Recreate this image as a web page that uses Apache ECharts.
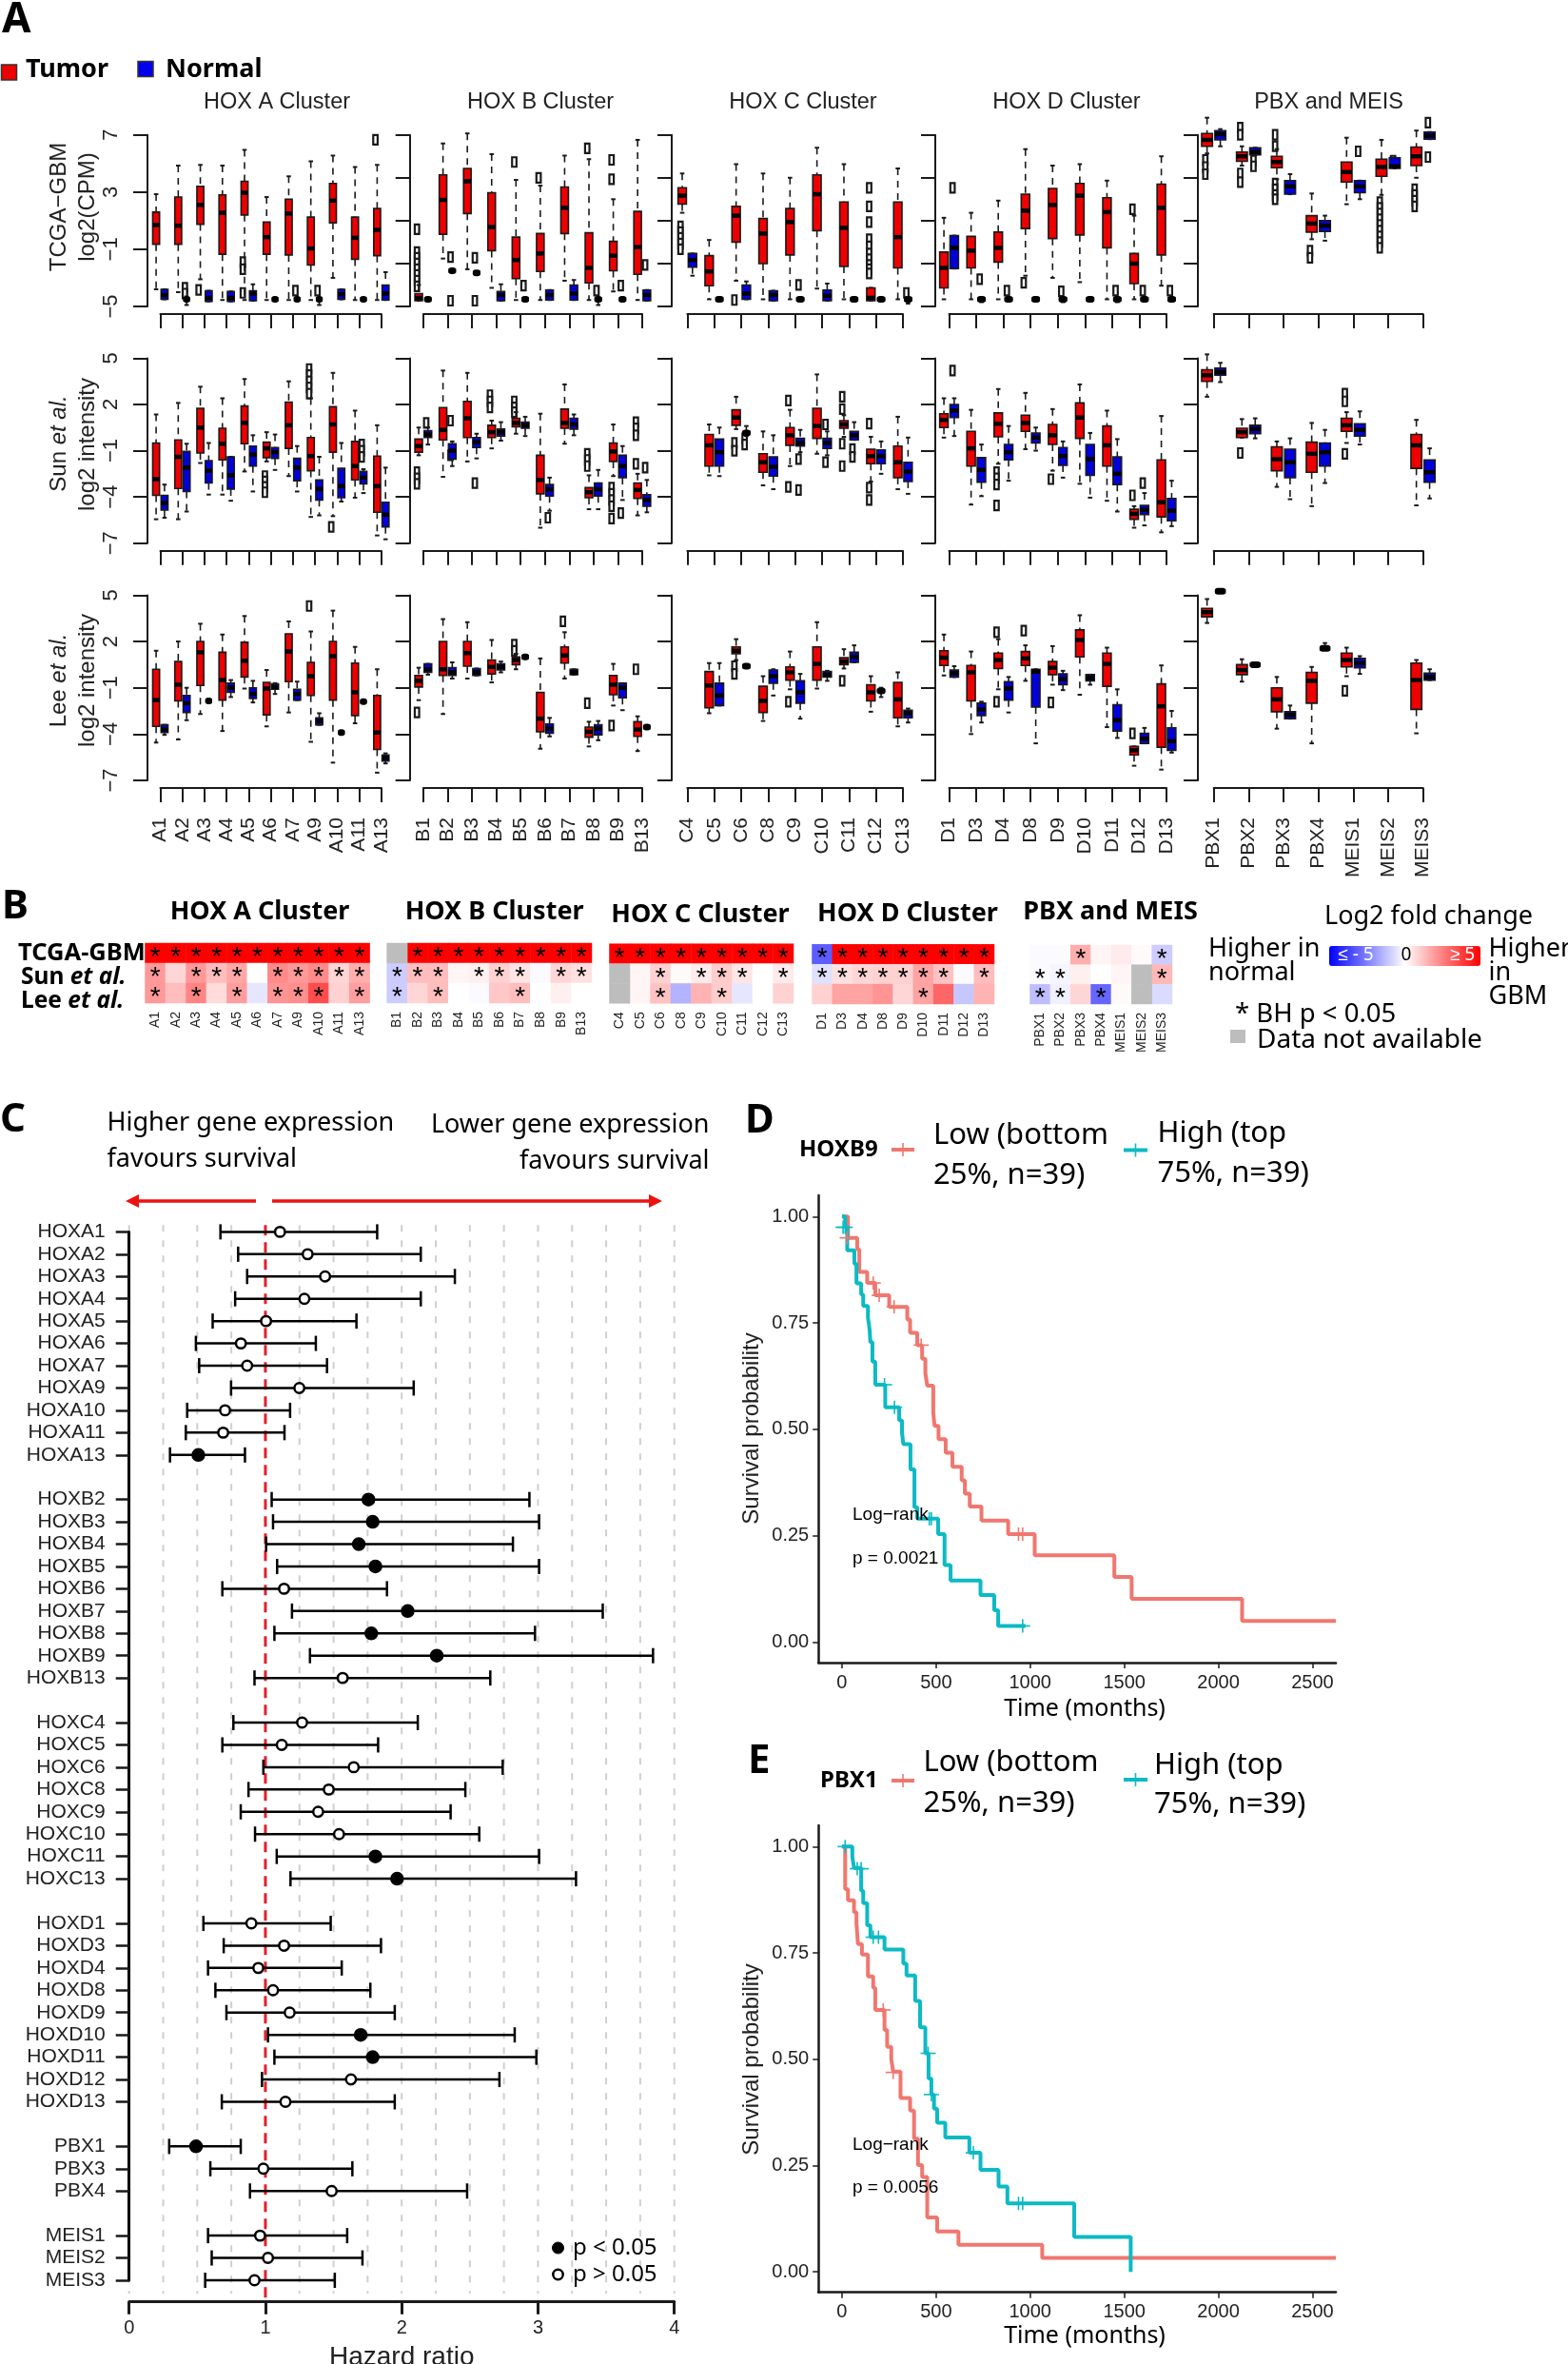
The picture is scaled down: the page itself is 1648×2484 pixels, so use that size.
<!DOCTYPE html>
<html><head><meta charset="utf-8">
<style>html,body{margin:0;padding:0;background:#fff}#c{width:1648px;height:2484px}</style>
<script src="https://cdn.jsdelivr.net/npm/echarts@6/dist/echarts.min.js"></script>
</head><body><div id="c"></div>
<script>
// ---------- Panel A: gene names ----------
const genesA=['A1','A2','A3','A4','A5','A6','A7','A9','A10','A11','A13'];
const genesB=['B1','B2','B3','B4','B5','B6','B7','B8','B9','B13'];
const genesC=['C4','C5','C6','C8','C9','C10','C11','C12','C13'];
const genesD=['D1','D3','D4','D8','D9','D10','D11','D12','D13'];
const genesP=['PBX1','PBX2','PBX3','PBX4','MEIS1','MEIS2','MEIS3'];
// box rows: [low whisker, q1, median, q3, high whisker, ...outliers]
const tcgaA_T=[[-3.8,-0.65,0.7,1.6,2.85],[-4,-0.65,0.65,2.65,4.85],[-3.1,0.75,2.1,3.4,4.9,-3.85],[-4.55,-1.35,1.55,2.8,4.85],[-4.55,1.4,2.95,3.75,5.95,-1.9,-2.4,-4.05],[-4.55,-1.35,-0.15,0.9,2.65],[-4.55,-1.4,1.5,2.5,4.1],[-4.55,-2.1,-0.95,1.25,5.15],[-3,0.85,2.4,3.6,5.55],[-4.55,-1.7,-0.2,1.25,4.75],[-4.55,-1.45,0.35,1.85,4.9,6.65]];
const tcgaA_N=[[-4.5,-4.5,-4.2,-3.8,-3.8],[-4.9,-4.7,-4.5,-4.4,-4.3,-3.7,-4.1],[-4.65,-4.65,-4.4,-3.9,-3.9],[-4.65,-4.65,-4.4,-3.95,-3.95],[-4.6,-4.6,-4.1,-3.9,-3.45],[-4.6,-4.6,-4.5,-4.4,-4.4],[-4.6,-4.6,-4.5,-4.4,-4.4,-3.9],[-4.9,-4.7,-4.5,-4.4,-4.4,-3.9],[-4.5,-4.5,-4.15,-3.8,-3.8],[-4.6,-4.6,-4.5,-4.4,-4.4],[-4.55,-4.55,-4.1,-3.5,-2.6]];
const tcgaB_T=[[-4.6,-4.6,-4.4,-4.1,-3.5,0.4,-1.2,-1.6,-2,-2.4,-2.8,-3.2,-3.6],[-1.65,0.05,2.45,4.2,6.4],[-2.4,1.5,3.75,4.65,7.1],[-3.7,-1.1,0.55,2.95,5.65],[-4.55,-3.05,-1.75,-0.15,3.85,5.1],[-4.55,-2.55,-1.3,0.1,3.45,4],[-3.2,0.1,1.9,3.35,5.55],[-4.55,-3.35,-2.3,0.15,5.3,6.05],[-3.95,-2.5,-1.45,-0.45,2.5,5.25,3.9],[-4.55,-2.75,-0.85,1.65,6.65]];
const tcgaB_N=[[-4.6,-4.6,-4.5,-4.4,-4.4],[-2.6,-2.6,-2.5,-2.4,-2.4,-1.55,-4.6],[-2.75,-2.75,-2.65,-2.55,-2.55,-1.6,-4.6],[-4.6,-4.6,-4.2,-3.95,-3.45],[-4.6,-4.6,-4.5,-4.4,-4.4,-3.55],[-4.55,-4.55,-4.2,-3.85,-3.85],[-4.55,-4.55,-4.1,-3.5,-3.15],[-4.9,-4.7,-4.5,-4.4,-4.4,-3.9],[-4.6,-4.6,-4.5,-4.4,-4.4,-3.55],[-4.6,-4.6,-4.2,-3.85,-3.85,-2.1]];
const tcgaC_T=[[1.55,2.15,2.75,3.3,4.3,0.6,0.2,-0.2,-0.6,-1],[-4.5,-3.55,-2.55,-1.45,-0.35],[-3.2,-0.5,1.35,2,4.95,-4.55],[-4.5,-2,0.1,1.15,4.3],[-4.5,-1.4,0.9,1.85,4],[-3.75,0.3,2.85,4.2,6.1],[-4.5,-2.2,0.5,2.3,4.95],[-4.6,-4.6,-4.4,-3.7,-3.7,3.3,2,0.9,-0.3,-0.8,-1.3,-1.7,-2.1,-2.4,-2.7],[-4.5,-2.3,-0.15,2.3,4.65]];
const tcgaC_N=[[-2.85,-2.25,-1.75,-1.3,-1.3],[-4.6,-4.6,-4.5,-4.4,-4.4],[-4.5,-4.5,-4.1,-3.5,-3.25],[-4.6,-4.6,-4.2,-3.9,-3.9],[-4.6,-4.6,-4.5,-4.4,-4.4,-3.5],[-4.6,-4.6,-4.25,-3.85,-3.4],[-4.6,-4.6,-4.5,-4.4,-4.4],[-4.6,-4.6,-4.5,-4.4,-4.4],[-4.8,-4.65,-4.5,-4.4,-4.4,-4.05]];
const tcgaD_T=[[-4.5,-3.7,-2.3,-1.2,1.2],[-4.5,-2.3,-1.1,-0.1,1.55],[-4.5,-1.9,-0.9,0.2,2.4],[-2.85,0.45,1.7,2.85,6,-3.35],[-3,-0.25,2.1,3.25,4.85],[-3.3,0,2.75,3.6,4.95],[-4.5,-0.9,1.6,2.6,3.8],[-4.5,-3.4,-2,-1.3,1.35,1.8],[-3.55,-1.4,1.9,3.55,5.5]];
const tcgaD_N=[[-2.35,-2.35,-0.9,-0.05,-0.05,3.3],[-4.7,-4.6,-4.5,-4.4,-4.4,-3.1],[-4.6,-4.6,-4.5,-4.4,-4.4,-3.9],[-4.6,-4.6,-4.5,-4.4,-4.4],[-4.7,-4.6,-4.5,-4.4,-4.4,-3.95],[-4.6,-4.6,-4.5,-4.4,-4.4],[-4.7,-4.6,-4.5,-4.4,-4.4,-3.9],[-4.6,-4.6,-4.5,-4.4,-4.4,-3.9],[-4.6,-4.6,-4.5,-4.4,-4.4,-3.9]];
const tcgaP_T=[[5.7,6.2,6.65,7.1,8.2,5.25,4.75,4.25],[4.85,5.15,5.5,5.8,6.2,7.5,7,4.3,3.7],[3.9,4.7,5.1,5.5,6,7,6.2,3.6,3.2,2.8,2.5],[-0.3,0.2,0.8,1.35,2.9,-1.1,-1.6],[2.15,3.7,4.4,5.1,6.8],[2.8,4.1,4.75,5.3,6.65,2.3,1.9,1.5,1.1,0.7,0.3,-0.1,-0.5,-0.9],[4,4.85,5.5,6.15,7.3,3.2,2.8,2.4,2]];
const tcgaP_N=[[6.2,6.65,7.05,7.3,7.4],[5.6,5.6,5.8,6.1,6.1,5.2,4.8],[2.85,2.85,3.4,3.8,4.25],[-0.4,0.25,0.65,1,1.35],[2.5,2.95,3.4,3.8,3.8,5.85],[4.65,4.65,4.8,5.4,5.4,5.2],[6.7,6.7,6.95,7.2,7.2,7.85,5.45]];

const sunA_T=[[-5.45,-3.9,-2.85,-0.5,1.35],[-5.45,-3.45,-1.4,-0.3,2.1],[-1.8,-1.15,0.5,1.75,3.15],[-3.85,-1.6,-0.55,0.45,2.4],[-2.35,-0.55,0.8,1.9,3.65],[-1.7,-1.45,-0.85,-0.45,0.2,-2.65,-3,-3.35,-3.7],[-2.65,-0.85,0.65,2.15,3.5],[-5.3,-2.3,-1.35,-0.15,2.4,4.3,3.9,3.5,3.1,2.7],[-5.25,-1.1,0.7,1.85,4.05,-5.95],[-4.05,-2.9,-2,-0.4,1.6],[-6.5,-5,-3.3,-1.35,0.65]];
const sunA_N=[[-5.35,-4.85,-4.4,-3.9,-3.2],[-4.95,-3.65,-2.1,-1.05,-0.55],[-3.85,-3.1,-2.3,-1.65,-0.5],[-4.25,-3.5,-2.6,-1.4,-1.4],[-3.65,-2,-1.25,-0.7,0],[-2.25,-1.5,-1.1,-0.8,0.05],[-3.65,-2.95,-2.1,-1.5,-0.7],[-5.2,-4.2,-3.5,-2.9,-1.4],[-4.3,-4.05,-3.3,-2.15,-0.5],[-3.75,-3.15,-2.75,-2.35,-2.2,-0.6,-1,-1.4],[-6.75,-5.95,-5.15,-4.35,-2.1]];
const sunB_T=[[-1.3,-1.1,-0.7,-0.25,0.5,-2.4,-2.8,-3.15],[-2.7,-0.3,0.35,1.8,4.2],[-1.7,-0.15,1.1,2.2,4.05],[-0.85,-0.15,0.2,0.65,0.95,2.6,2.2,1.8],[0.1,0.55,0.8,1.1,1.5,2.2,1.8,1.5],[-6,-3.8,-2.9,-1.3,1.4],[-0.55,0.45,0.8,1.7,3.3],[-4.8,-4.05,-3.7,-3.4,-2.6,-1.2,-1.6,-2],[-2.65,-1.7,-1.05,-0.5,0.7,-3.4,-3.8,-4.2,-4.6,-5.4],[-5.2,-4.1,-3.55,-3.1,-2.5,0.85,0.45,0,-1.85]];
const sunB_N=[[-0.6,-0.15,0.05,0.3,0.5,0.8],[-2,-1.55,-1,-0.55,-0.4,0.95,-1.3],[-1.5,-0.8,-0.45,-0.15,0.1,-3.1],[-0.35,-0.05,0.2,0.4,0.85],[-0.05,0.45,0.65,0.85,1.2],[-4.9,-3.95,-3.5,-3.2,-2.75,-5.35],[0,0.4,0.7,1.1,1.35],[-4.8,-3.95,-3.5,-3.1,-2.25],[-4.2,-2.75,-2,-1.3,-0.7,-5.05],[-5,-4.6,-4.2,-3.85,-2.9,-2.1]];
const sunC_T=[null,[-2.6,-2,-0.65,0.05,0.7],[0.4,0.65,1.15,1.65,2.5,-0.5,-1],[-3.25,-2.4,-1.75,-1.2,0.25],[-2,-0.65,0,0.5,1.65,2.25,-3.35],[-1.2,-0.2,0.6,1.75,3.95],[-0.1,0.45,0.7,0.95,1.3,2.5,1.7,-0.55,-2],[-3,-1.85,-1.35,-0.9,-0.1,0.75,-3.4,-4.2],[-3.5,-2.75,-1.75,-0.7,1.2]];
const sunC_N=[null,[-2.65,-2,-1.1,-0.25,0.5],[-0.05,0,0.15,0.3,0.6,-0.2,-0.6],[-3.5,-2.65,-2.05,-1.4,0],[-1.1,-0.7,-0.5,-0.2,0.35,-1.55,-3.55],[-1.3,-0.85,-0.5,-0.2,0.25,0.7,-1.75],[-0.3,-0.3,0,0.25,0.85,-0.9,-1.4],[-2.5,-1.85,-1.35,-0.95,-0.4],[-3.8,-3,-2.35,-1.75,-0.15]];
const sunD_T=[[-0.15,0.5,1,1.4,2.4],[-4.5,-2,-0.85,0.25,1.65],[-1.85,-0.1,0.75,1.45,3,-2.4,-2.8,-3.2,-4.55],[-0.9,0.25,0.8,1.3,2.75],[-2.3,-0.6,0,0.7,1.7,-2.85],[-3.15,-0.2,1.15,2.1,3.3],[-4.25,-2,-0.65,0.6,1.6],[-6,-5.45,-5.1,-4.8,-4.6,-3.9],[-6.3,-5.3,-4.35,-1.6,1.25]];
const sunD_N=[[-0.05,1.15,1.6,2,2.4,4.2],[-3.95,-3.05,-2.25,-1.45,-0.6],[-2.95,-1.6,-1.1,-0.6,0.6],[-1,-0.5,-0.15,0.15,0.5],[-2.75,-1.95,-1.35,-0.8,-0.4],[-4.05,-2.6,-1.55,-0.6,0.15],[-4.95,-3.2,-2.5,-1.4,-0.25],[-5.85,-5.15,-4.85,-4.55,-3.75,-3.1],[-5.9,-5.55,-4.9,-4.1,-2.95]];
const sunP_T=[[2.5,3.5,3.9,4.25,5.25],[-0.15,-0.15,0.2,0.45,1.05,-1.15],[-3.35,-2.3,-1.55,-0.75,-0.4],[-4.6,-2.4,-1.2,-0.45,0.8],[-0.5,0.25,0.65,1.1,1.5,2.7,2.2,-1.2],null,[-4.55,-2.15,-0.65,0.05,1]];
const sunP_N=[[3.45,3.9,4.1,4.35,4.7],[-0.2,0.1,0.4,0.65,1.1],[-4.15,-2.75,-1.75,-0.9,-0.2],[-3.1,-2,-1.1,-0.5,0.35],[-0.6,-0.05,0.35,0.75,1.55],null,[-4.1,-3.05,-2.4,-1.6,-0.85]];

const leeA_T=[[-4.55,-3.5,-1.8,0.2,1.4],[-4.35,-1.85,-0.8,0.7,2],[-2.7,-0.85,1.3,2,3.15],[-3.8,-1.8,-0.5,1.3,2.45],[-1.05,-0.3,0.75,1.95,3.65],[-3.5,-2.75,-1.05,-0.65,0.15],[-2.6,-0.6,1.35,2.5,3.3],[-4.5,-1.5,-0.25,0.65,2.65,4.3],[-5.85,-1.8,1.05,2,4],[-3.3,-2.8,-1.3,0.6,1.65],[-6.5,-5,-3.9,-1.5,0.2]];
const leeA_N=[[-4.05,-3.9,-3.7,-3.4,-3.4],[-3.1,-2.6,-2,-1.5,-1],[-1.95,-1.95,-1.85,-1.75,-1.75],[-1.6,-1.3,-1,-0.7,-0.5],[-1.95,-1.7,-1.4,-1,-0.55],[-1.4,-1.1,-0.95,-0.75,-0.7],[-1.8,-1.8,-1.4,-1.1,-0.6],[-3.4,-3.4,-3.15,-2.95,-2.65],[-4,-4,-3.9,-3.8,-3.8],[-2,-2,-1.9,-1.8,-1.8],[-5.9,-5.75,-5.55,-5.35,-5.25]];
const leeB_T=[[-1.8,-0.95,-0.55,-0.2,0.3,-2.6],[-2.7,-0.2,0.2,2,3.45],[-0.4,0.4,1.25,2,3.25],[-0.65,-0.1,0.35,0.8,2.1],[0.2,0.5,0.8,1,1.2,1.8,1.4],[-4.95,-3.85,-3,-1.3,0.9],[-0.4,0.6,1.1,1.65,2.6,3.3],[-4.8,-4.2,-3.85,-3.55,-3.2,-2],[-2.15,-1.45,-0.8,-0.2,0.55,-3.45],[-5.1,-4.15,-3.7,-3.2,-2.85,0.2]];
const leeB_N=[[-0.15,0,0.2,0.55,0.55],[-0.4,-0.2,0,0.3,0.65],[-0.2,-0.2,0,0.25,0.25],[0,0.15,0.35,0.55,0.7],[0.9,0.9,1,1.1,1.1],[-4.15,-3.95,-3.65,-3.35,-2.95],[-0.15,-0.15,0,0.2,0.2],[-4.4,-4.05,-3.65,-3.4,-3.15],[-2.45,-1.65,-1,-0.7,-0.7],[-3.65,-3.65,-3.55,-3.45,-3.45]];
const leeC_T=[null,[-2.65,-2.3,-0.85,0.05,0.6],[0.8,1.2,1.4,1.65,2.15,0.4,-0.1],[-3.15,-2.6,-1.85,-0.9,-0.25],[-1.1,-0.5,0,0.35,1.35,-1.9],[-1.05,-0.5,0.55,1.65,3.25],[0.25,0.5,0.7,0.95,1.5,-0.55],[-2.55,-1.85,-1.3,-0.8,-0.25],[-3.5,-2.95,-1.75,-0.65,0]];
const leeC_N=[null,[-2.15,-2.15,-1.5,-0.7,0.6],[0.3,0.3,0.4,0.5,0.5],[-1.5,-0.7,-0.25,0.15,0.2],[-3,-2,-1.3,-0.55,-0.1],[-0.55,-0.3,-0.15,0.05,0.1],[0.65,0.65,1,1.3,1.75],[-1.6,-1.3,-1.2,-1.05,-1],[-3.25,-2.95,-2.65,-2.45,-2.35]];
const leeD_T=[[-0.2,0.45,0.95,1.4,2.45],[-4,-1.85,0,0.45,1.35],[-1.1,0.25,0.8,1.25,2.15,2.6,-1.9],[-0.55,0.45,0.9,1.35,1.75,2.7],[-0.8,-0.15,0.3,0.7,1.7,-1.95],[-1.45,1,2.1,2.75,3.7],[-3.55,-0.9,0.55,1.25,1.6],[-6.05,-5.35,-5.05,-4.8,-4.8,-3.95],[-6.3,-4.85,-2.2,-0.75,0.45]];
const leeD_N=[[-0.3,-0.3,-0.05,0.15,0.4],[-3.25,-2.8,-2.4,-2,-1.9],[-2.6,-1.8,-1.05,-0.6,-0.3],[-4.6,-2.25,0.05,0.2,0.2],[-1.15,-0.8,-0.45,-0.1,0.1],[-0.8,-0.55,-0.35,-0.15,-0.15],[-4.25,-3.8,-3.1,-2.1,-1.1],[-4.6,-4.6,-4.3,-3.95,-3.6],[-5.2,-5.05,-4.45,-3.6,-2.5]];
const leeP_T=[[3.2,3.6,3.9,4.15,4.75],[-0.6,-0.15,0.15,0.5,0.85],[-3.65,-2.55,-1.75,-1,-0.3],[-4.6,-2,-0.55,0,0.35],[-0.25,0.35,0.8,1.25,1.6,-1.2],null,[-3.95,-2.4,-0.5,0.6,0.8]];
const leeP_N=[[5.15,5.15,5.25,5.35,5.35],[0.4,0.4,0.5,0.6,0.6],[-3,-3,-2.75,-2.55,-2.15],[1.45,1.45,1.55,1.65,1.9],[-0.1,0.3,0.6,0.9,1.05],null,[-0.5,-0.5,-0.3,-0.05,0.2]];

// ---------- Panel B: log2 fold change and significance ----------
const fcTcgaA=[5,5,5,5,5,5,5,5,5,5,5],   sigTcgaA=[1,1,1,1,1,1,1,1,1,1,1];
const fcSunA=[2,0.8,2,1.3,1.7,0,2.3,2,2.3,0.8,1.6], sigSunA=[1,0,1,1,1,0,1,1,1,1,1];
const fcLeeA=[2,1.3,2.4,0.7,1.9,-0.5,2.1,2.2,3.5,0.9,1.9], sigLeeA=[1,0,1,0,1,0,1,1,1,0,1];
const fcTcgaB=[null,5,5,5,5,5,5,5,5,5],  sigTcgaB=[0,1,1,1,1,1,1,1,1,1];
const fcSunB=[-1,1.3,1.3,0.2,0.3,0.9,0.5,-0.1,0.8,0.6], sigSunB=[1,1,1,0,1,1,1,0,1,1];
const fcLeeB=[-1,0.8,1.3,0,-0.1,1.1,1.3,0,0.3,0], sigLeeB=[1,0,1,0,0,0,1,0,0,0];
const fcTcgaC=[5,5,5,5,5,5,5,5,5],       sigTcgaC=[1,1,1,1,1,1,1,1,1];
const fcSunC=[null,0.2,0.9,0.1,0.4,1,0.5,0,0.4], sigSunC=[0,0,1,0,1,1,1,0,1];
const fcLeeC=[null,0.2,1.2,-1.5,1.5,1,-0.5,0,0.9], sigLeeC=[0,0,1,0,0,1,0,0,0];
const fcTcgaD=[-3.2,5,5,5,5,5,5,5,5],    sigTcgaD=[1,1,1,1,1,1,1,1,1];
const fcSunD=[-0.6,0.6,0.8,0.9,0.9,1.8,1.2,-0.1,1.3], sigSunD=[1,1,1,1,1,1,1,0,1];
const fcLeeD=[0.9,1.8,1.8,2.1,0.8,1.8,3,-1.1,1.5], sigLeeD=[0,0,0,0,0,1,0,0,0];
const fcTcgaP=[-0.1,-0.1,1.6,0.2,0.4,0.1,-1], sigTcgaP=[0,0,1,0,0,0,1];
const fcSunP=[-0.1,-0.2,0.3,0,0.2,null,1.4], sigSunP=[1,1,0,0,0,0,1];
const fcLeeP=[-1.3,-0.3,0.8,-3,0.1,null,-0.7], sigLeeP=[1,1,0,1,0,0,0];

// ---------- Panel C: hazard ratios [gene, low, HR, high, significant] ----------
const hrRowsA=[['HOXA1',0.67,1.107,1.82,0],['HOXA2',0.8,1.31,2.14,0],['HOXA3',0.866,1.438,2.39,0],['HOXA4',0.778,1.286,2.14,0],['HOXA5',0.613,1.005,1.668,0],['HOXA6',0.49,0.82,1.37,0],['HOXA7',0.514,0.866,1.452,0],['HOXA9',0.748,1.249,2.088,0],['HOXA10',0.426,0.704,1.181,0],['HOXA11',0.416,0.69,1.14,0],['HOXA13',0.3,0.508,0.85,1]];
const hrRowsB=[['HOXB2',1.046,1.756,2.937,1],['HOXB3',1.056,1.787,3.008,1],['HOXB4',1.005,1.685,2.816,1],['HOXB5',1.086,1.807,3.008,1],['HOXB6',0.684,1.137,1.892,0],['HOXB7',1.195,2.044,3.475,1],['HOXB8',1.066,1.777,2.978,1],['HOXB9',1.327,2.257,3.844,1],['HOXB13',0.92,1.567,2.65,0]];
const hrRowsC=[['HOXC4',0.765,1.269,2.118,0],['HOXC5',0.684,1.12,1.827,0],['HOXC6',0.985,1.648,2.741,0],['HOXC8',0.876,1.465,2.467,0],['HOXC9',0.819,1.387,2.359,0],['HOXC10',0.924,1.54,2.569,0],['HOXC11',1.083,1.807,3.008,1],['HOXC13',1.184,1.966,3.279,1]];
const hrRowsD=[['HOXD1',0.545,0.897,1.479,0],['HOXD3',0.694,1.137,1.848,0],['HOXD4',0.579,0.948,1.56,0],['HOXD8',0.633,1.056,1.77,0],['HOXD9',0.714,1.178,1.949,0],['HOXD10',1.019,1.699,2.829,1],['HOXD11',1.066,1.787,2.988,1],['HOXD12',0.975,1.628,2.717,0],['HOXD13',0.68,1.147,1.949,0]];
const hrRowsP=[['PBX1',0.294,0.491,0.819,1],['PBX3',0.596,0.985,1.638,0],['PBX4',0.887,1.486,2.48,0]];
const hrRowsM=[['MEIS1',0.579,0.961,1.6,0],['MEIS2',0.606,1.019,1.712,0],['MEIS3',0.558,0.92,1.509,0]];
const hrGridValues=[0,0.25,0.5,0.75,1.25,1.5,1.75,2,2.25,2.5,2.75,3,3.25,3.5,3.75,4];

// ---------- Panels D, E: Kaplan-Meier steps [time, survival] and censor marks ----------
const kmD_low=[[0,1],[32,.95],[81,.923],[92,.87],[134,.844],[177,.815],[251,.788],[347,.758],[362,.727],[400,.698],[426,.666],[443,.632],[453,.603],[485,.54],[492,.508],[513,.477],[551,.445],[587,.412],[636,.38],[653,.349],[679,.319],[741,.286],[883,.254],[1024,.204],[1447,.153],[1539,.102],[2126,.05],[2624,.05]];
const kmD_high=[[0,1],[17,.975],[28,.921],[66,.889],[77,.843],[102,.817],[113,.79],[138,.763],[147,.734],[151,.705],[162,.659],[177,.605],[230,.552],[304,.521],[319,.492],[326,.465],[364,.406],[385,.317],[400,.29],[511,.254],[545,.181],[577,.145],[736,.111],[809,.075],[830,.038],[975,.038]];
const censD_low=[[28,.95],[166,.844],[198,.815],[277,.788],[421,.698],[938,.254],[960,.254]];
const censD_high=[[6,.975],[17,.975],[226,.605],[279,.552],[464,.29],[475,.29],[960,.038]];
const kmE_low=[[0,1],[17,.90],[32,.874],[64,.846],[77,.82],[85,.771],[106,.746],[138,.695],[166,.668],[177,.616],[226,.569],[240,.529],[262,.5],[272,.471],[311,.409],[362,.379],[383,.313],[404,.251],[426,.223],[453,.128],[506,.095],[619,.064],[1064,.033],[2624,.033]];
const kmE_high=[[0,1],[55,.976],[64,.95],[102,.896],[113,.867],[134,.815],[151,.787],[226,.758],[326,.725],[343,.697],[389,.637],[415,.575],[443,.514],[460,.455],[475,.417],[489,.384],[506,.351],[549,.316],[677,.28],[736,.24],[832,.201],[879,.161],[1234,.082],[1534,0]];
const censE_low=[[219,.616],[272,.469]];
const censE_high=[[17,1],[81,.948],[102,.948],[166,.787],[194,.787],[458,.514],[475,.417],[698,.28],[938,.161],[960,.161]];

// ================= chart construction ================
const SANS='"Liberation Sans",Arial,sans-serif', CAL='"Noto Sans",sans-serif';
const INK='#1a1a1a', LOW='#F0776F', HIGH='#0CBAC4';
const grids=[],xAxes=[],yAxes=[],series=[],graphics=[];
function addGrid(g,x,y){grids.push(Object.assign({outerBoundsMode:'none'},g));xAxes.push(Object.assign({gridIndex:grids.length-1},x));yAxes.push(Object.assign({gridIndex:grids.length-1},y));return grids.length-1;}
function T(text,x,y,size,o={}){graphics.push({type:'text',z:100,x,y,rotation:o.rot||0,style:{text,fontSize:size,fontFamily:o.font||CAL,fontWeight:o.bold?'bold':'normal',fill:o.color||'#000',align:o.align||'left',verticalAlign:'middle',rich:o.rich}});}
const minusFmt=v=>String(v).replace('-','\u2212');

// ---- Panel A
const colsA=[
 {left:168.5,right:400.8,axis:155,genes:genesA,key:'A'},
 {left:444.9,right:675,axis:430.7,genes:genesB,key:'B'},
 {left:722.4,right:949,axis:706,genes:genesC,key:'C'},
 {left:997.5,right:1226,axis:983,genes:genesD,key:'D'},
 {left:1275.6,right:1495.6,axis:1259,genes:genesP,key:'P'}];
const rowsA=[
 {top:141.7,bottom:322,min:-5,max:7,ticks:[-5,-2,1,4,7],first:[-5,-1,3,7],T:[tcgaA_T,tcgaB_T,tcgaC_T,tcgaD_T,tcgaP_T],N:[tcgaA_N,tcgaB_N,tcgaC_N,tcgaD_N,tcgaP_N]},
 {top:376.4,bottom:570.7,min:-7,max:5,ticks:[-7,-4,-1,2,5],first:[-7,-4,-1,2,5],T:[sunA_T,sunB_T,sunC_T,sunD_T,sunP_T],N:[sunA_N,sunB_N,sunC_N,sunD_N,sunP_N]},
 {top:625.4,bottom:820,min:-7,max:5,ticks:[-7,-4,-1,2,5],first:[-7,-4,-1,2,5],T:[leeA_T,leeB_T,leeC_T,leeD_T,leeP_T],N:[leeA_N,leeB_N,leeC_N,leeD_N,leeP_N]}];
function boxRender(side,fill){return (p,api)=>{
  const i=api.value(0),band=api.size([1,0])[0],xc=api.coord([i,0])[0]+side*0.19*band,w=0.31*band;
  const Y=v=>api.coord([i,v])[1];
  const lo=Y(api.value(1)),q1=Y(api.value(2)),md=Y(api.value(3)),q3=Y(api.value(4)),hi=Y(api.value(5));
  const dash={stroke:INK,lineWidth:1.6,lineDash:[7,6]},solid={stroke:INK,lineWidth:2};
  const ln=(x1,y1,x2,y2,s)=>({type:'line',shape:{x1,y1,x2,y2},style:s});
  const tiny=q1-q3<5;
  return {type:'group',children:[
    ln(xc,hi,xc,q3,dash),ln(xc,q1,xc,lo,dash),
    ln(xc-2.3,hi,xc+2.3,hi,solid),ln(xc-2.3,lo,xc+2.3,lo,solid),
    tiny?{type:'rect',shape:{x:xc-w/2,y:md-3.5,width:w,height:7,r:3},style:{fill:'#000'}}
        :{type:'rect',shape:{x:xc-w/2,y:q3,width:w,height:q1-q3},style:{fill,stroke:INK,lineWidth:1.6}},
    ln(xc-w/2,md,xc+w/2,md,{stroke:'#000',lineWidth:4.5})]};
};}
function outRender(side){return (p,api)=>{
  const i=api.value(0),band=api.size([1,0])[0],xc=api.coord([i,0])[0]+side*0.19*band-1.8,y=api.coord([i,api.value(1)])[1];
  return {type:'rect',shape:{x:xc-2.3,y:y-5,width:4.6,height:10},style:{fill:'#fff',stroke:INK,lineWidth:2.2}};
};}
rowsA.forEach((r,ri)=>{colsA.forEach((c,ci)=>{
  const gi=addGrid({left:c.left,top:r.top,width:c.right-c.left,height:r.bottom-r.top},
   {type:'category',data:c.genes,boundaryGap:false,offset:8,
    axisLine:{onZero:false,lineStyle:{color:INK,width:2}},axisTick:{show:true,length:15,interval:0,lineStyle:{color:INK,width:2}},
    axisLabel:{show:ri===2,rotate:90,interval:0,margin:31,fontSize:21,fontFamily:SANS,color:'#222',hideOverlap:false},splitLine:{show:false}},
   {type:'value',min:r.min,max:r.max,offset:c.left-c.axis,splitLine:{show:false},
    axisLine:{show:true,onZero:false,lineStyle:{color:INK,width:2}},
    axisTick:{show:true,length:15,customValues:ci===0?r.first:r.ticks,lineStyle:{color:INK,width:2}},
    axisLabel:{show:ci===0,rotate:90,customValues:r.first,margin:27,fontSize:22,fontFamily:SANS,color:'#222',formatter:minusFmt}});
  [[r.T[ci],-1,'#ee0000'],[r.N[ci],1,'#0000dd']].forEach(([rows,side,fill])=>{
    const boxes=[],outs=[];
    rows.forEach((b,i)=>{if(!b)return;boxes.push([i,b[0],b[1],b[2],b[3],b[4]]);b.slice(5).forEach(o=>outs.push([i,o]));});
    series.push({type:'custom',xAxisIndex:gi,yAxisIndex:gi,z:3,renderItem:outRender(side),data:outs,encode:{x:0,y:1},silent:true});
    series.push({type:'custom',xAxisIndex:gi,yAxisIndex:gi,z:4,renderItem:boxRender(side,fill),data:boxes,encode:{x:0,y:[1,2,3,4,5]},silent:true});
  });
});});
[['HOX A Cluster',291,23.5],['HOX B Cluster',568,23.5],['HOX C Cluster',844,23.5],['HOX D Cluster',1121,23.5],['PBX and MEIS',1396.5,23.5]].forEach(([s,x,f])=>T(s,x,108,f,{font:SANS,align:'center',color:'#222'}));
const R90=Math.PI/2;
const richA={n:{fontFamily:SANS,fontSize:24,fill:'#222'},i:{fontFamily:SANS,fontSize:24,fontStyle:'italic',fill:'#222'}};
T('TCGA\u2212GBM',62,217.5,24,{font:SANS,rot:R90,align:'center',color:'#222'});
T('log2(CPM)',92,217.5,24,{font:SANS,rot:R90,align:'center',color:'#222'});
T('{n|Sun }{i|et al.}',62,466,24,{font:SANS,rot:R90,align:'center',rich:richA});
T('log2 intensity',92,467,24,{font:SANS,rot:R90,align:'center',color:'#222'});
T('{n|Lee }{i|et al.}',62,715,24,{font:SANS,rot:R90,align:'center',rich:richA});
T('log2 intensity',92,715,24,{font:SANS,rot:R90,align:'center',color:'#222'});
T('A',2,21,44,{bold:true});
graphics.push({type:'rect',z:100,shape:{x:1.5,y:68,width:16,height:16},style:{fill:'#ee0000',stroke:'#333',lineWidth:1.5}});
graphics.push({type:'rect',z:100,shape:{x:145,y:64.5,width:16,height:16},style:{fill:'#0000ee',stroke:'#333',lineWidth:1.5}});
T('Tumor',27,73,27,{bold:true});T('Normal',174,73,27,{bold:true});

// ---- Panel B
const heatIdx=[];
[
 {left:152.5,right:388.6,top:991,bottom:1054,genes:genesA,fc:[fcTcgaA,fcSunA,fcLeeA],sig:[sigTcgaA,sigSunA,sigLeeA]},
 {left:406.6,right:622,top:991,bottom:1054,genes:genesB,fc:[fcTcgaB,fcSunB,fcLeeB],sig:[sigTcgaB,sigSunB,sigLeeB]},
 {left:640.5,right:834,top:991.7,bottom:1054.3,genes:genesC,fc:[fcTcgaC,fcSunC,fcLeeC],sig:[sigTcgaC,sigSunC,sigLeeC]},
 {left:853.5,right:1045,top:992.3,bottom:1055,genes:genesD,fc:[fcTcgaD,fcSunD,fcLeeD],sig:[sigTcgaD,sigSunD,sigLeeD]},
 {left:1082.5,right:1232,top:993,bottom:1055,genes:genesP,fc:[fcTcgaP,fcSunP,fcLeeP],sig:[sigTcgaP,sigSunP,sigLeeP]}
].forEach(h=>{
  const gi=addGrid({left:h.left,top:h.top,width:h.right-h.left,height:h.bottom-h.top},
    {type:'category',data:h.genes,axisLine:{show:false},axisTick:{show:false},splitLine:{show:false},
     axisLabel:{rotate:90,interval:0,margin:9,fontSize:14,fontFamily:SANS,color:'#222',hideOverlap:false}},
    {type:'category',inverse:true,data:['TCGA-GBM','Sun et al.','Lee et al.'],show:false,splitLine:{show:false}});
  const vals=[],na=[];
  h.fc.forEach((row,y)=>row.forEach((v,x)=>{if(v===null)na.push([x,y,0]);else vals.push([x,y,v,h.sig[y][x]]);}));
  heatIdx.push(series.length);
  series.push({type:'heatmap',xAxisIndex:gi,yAxisIndex:gi,data:vals,encode:{x:0,y:1,value:2},silent:true,z:2,
    label:{show:true,offset:[0,5],formatter:p=>p.data[3]?'*':'',fontSize:28,fontFamily:SANS,color:'#000'},itemStyle:{borderWidth:0}});
  series.push({type:'heatmap',xAxisIndex:gi,yAxisIndex:gi,data:na,silent:true,z:2,itemStyle:{color:'#bdbdbd'},label:{show:false}});
});
T('B',2,953,42,{bold:true});
[['HOX A Cluster',273,958],['HOX B Cluster',519.6,958],['HOX C Cluster',736,961],['HOX D Cluster',954,960],['PBX and MEIS',1167,958]].forEach(([s,x,y])=>T(s,x,y,27,{bold:true,align:'center'}));
const richB={b:{fontFamily:CAL,fontSize:24.5,fontWeight:'bold',fill:'#000'},i:{fontFamily:CAL,fontSize:24.5,fontWeight:'bold',fontStyle:'italic',fill:'#000'}};
T('TCGA-GBM',19,1002,25.5,{bold:true});
T('{b|Sun }{i|et al.}',22,1027,0,{rich:richB});
T('{b|Lee }{i|et al.}',22,1052,0,{rich:richB});
T('Log2 fold change',1392,963,27);
T('Higher in',1270,997,27);T('normal',1270,1022,27);
T('Higher',1564.5,997,27);T('in',1564.5,1022,27);T('GBM',1564.5,1047,27);
T('\u2264 - 5',1425,1004,19,{align:'center',color:'#fff'});T('0',1478,1004,19,{align:'center'});T('\u2265 5',1537,1004,19,{align:'center',color:'#fff'});
T('* BH p < 0.05',1298,1066,27.5);T('Data not available',1321,1093,28);
graphics.push({type:'rect',z:100,shape:{x:1293,y:1082,width:16,height:14},style:{fill:'#bdbdbd'}});

// ---- Panel C
const hrGroups=[hrRowsA,hrRowsB,hrRowsC,hrRowsD,hrRowsP,hrRowsM];
const hrData=[],hrTicks=[],hrNames={};
let rowPos=0;
hrGroups.forEach(g=>{g.forEach(r=>{hrData.push([rowPos,r[1],r[2],r[3],r[4]]);hrTicks.push(rowPos);hrNames[rowPos]=r[0];rowPos++;});rowPos++;});
const lastRow=rowPos-2;
const gc=addGrid({left:135.7,top:1294.4,width:573,height:1101.6},
  {type:'value',min:0,max:4,interval:1,offset:22.7,splitLine:{show:false},
   axisLine:{onZero:false,lineStyle:{color:INK,width:3}},axisTick:{length:13,lineStyle:{color:INK,width:3}},
   axisLabel:{fontSize:20,fontFamily:SANS,color:'#222',margin:18},
   name:'Hazard ratio',nameLocation:'middle',nameGap:45,nameTextStyle:{fontSize:28,fontFamily:SANS,color:'#222'}},
  {type:'value',inverse:true,min:0,max:lastRow,splitLine:{show:false},z:6,
   axisLine:{show:true,onZero:false,lineStyle:{color:'#000',width:3}},
   axisTick:{show:true,length:14,customValues:hrTicks,lineStyle:{color:INK,width:2.5}},
   axisLabel:{customValues:hrTicks,margin:25,fontSize:21,fontFamily:SANS,color:'#222',formatter:v=>hrNames[v]||''}});
series.push({type:'custom',xAxisIndex:gc,yAxisIndex:gc,z:1,silent:true,data:hrGridValues.map(v=>[v]),encode:{x:0},
  renderItem:(p,api)=>{const a=api.coord([api.value(0),-0.3]),b=api.coord([api.value(0),47.6]);
    return {type:'line',shape:{x1:a[0],y1:a[1],x2:b[0],y2:b[1]},style:{stroke:'#cfcfcf',lineWidth:2,lineDash:[7,9]}};}});
series.push({type:'custom',xAxisIndex:gc,yAxisIndex:gc,z:2,silent:true,data:[[1]],encode:{x:0},
  renderItem:(p,api)=>{const a=api.coord([1,-0.3]),b=api.coord([1,47.95]);
    return {type:'line',shape:{x1:a[0],y1:a[1],x2:b[0],y2:b[1]},style:{stroke:'#e2202a',lineWidth:3,lineDash:[11,7]}};}});
series.push({type:'custom',xAxisIndex:gc,yAxisIndex:gc,z:3,silent:true,data:hrData,encode:{x:[1,2,3],y:0},
  renderItem:(p,api)=>{const r=api.value(0),A=api.coord([api.value(1),r]),M=api.coord([api.value(2),r]),B=api.coord([api.value(3),r]),sig=api.value(4);
    const s={stroke:'#000',lineWidth:2.5};
    return {type:'group',children:[
      {type:'line',shape:{x1:A[0],y1:A[1],x2:B[0],y2:B[1]},style:s},
      {type:'line',shape:{x1:A[0],y1:A[1]-8,x2:A[0],y2:A[1]+8},style:s},
      {type:'line',shape:{x1:B[0],y1:B[1]-8,x2:B[0],y2:B[1]+8},style:s},
      {type:'circle',shape:{cx:M[0],cy:M[1],r:sig?6:5.2},style:{fill:sig?'#000':'#fff',stroke:'#000',lineWidth:2.5}}]};}});
T('C',0,1177,42,{bold:true});
T('Higher gene expression',112.5,1180,27);T('favours survival',112.5,1218,27);
T('Lower gene expression',745.5,1182,27,{align:'right'});T('favours survival',745.5,1220.7,27,{align:'right'});
graphics.push({type:'line',z:100,shape:{x1:146,y1:1262,x2:269,y2:1262},style:{stroke:'#ee1111',lineWidth:3.5}});
graphics.push({type:'line',z:100,shape:{x1:286,y1:1262,x2:682,y2:1262},style:{stroke:'#ee1111',lineWidth:3.5}});
graphics.push({type:'polygon',z:100,shape:{points:[[132,1262],[146,1255],[146,1269]]},style:{fill:'#ee1111'}});
graphics.push({type:'polygon',z:100,shape:{points:[[696,1262],[682,1255],[682,1269]]},style:{fill:'#ee1111'}});
graphics.push({type:'circle',z:100,shape:{cx:586.5,cy:2362,r:6},style:{fill:'#000',stroke:'#000'}});
graphics.push({type:'circle',z:100,shape:{cx:586.5,cy:2390,r:5.2},style:{fill:'#fff',stroke:'#000',lineWidth:2.5}});
T('p < 0.05',602,2362,24);T('p > 0.05',602,2390,24);

// ---- Panels D, E
function km(top,bottom,low,high,cLow,cHigh){
  const g=addGrid({left:860.2,top,width:543.8,height:bottom-top},
   {type:'value',min:-125,max:2624,splitLine:{show:false},
    axisLine:{onZero:false,lineStyle:{color:INK,width:2.5}},axisTick:{length:6,customValues:[0,500,1000,1500,2000,2500],lineStyle:{color:INK,width:1.5}},
    axisLabel:{customValues:[0,500,1000,1500,2000,2500],fontSize:20,fontFamily:SANS,color:'#222',margin:11,formatter:v=>String(v)}},
   {type:'value',min:-0.048,max:1.05,splitLine:{show:false},
    axisLine:{show:true,onZero:false,lineStyle:{color:INK,width:2.5}},axisTick:{show:true,length:6,customValues:[0,.25,.5,.75,1],lineStyle:{color:INK,width:1.5}},
    axisLabel:{customValues:[0,.25,.5,.75,1],fontSize:20,fontFamily:SANS,color:'#222',margin:10,formatter:v=>v.toFixed(2)}});
  [[low,LOW,cLow],[high,HIGH,cHigh]].forEach(([d,col,cens])=>{
    series.push({type:'line',xAxisIndex:g,yAxisIndex:g,data:d,step:'end',showSymbol:false,silent:true,z:3,lineStyle:{color:col,width:4}});
    series.push({type:'custom',xAxisIndex:g,yAxisIndex:g,data:cens,encode:{x:0,y:1},silent:true,z:4,
      renderItem:(p,api)=>{const c=api.coord([api.value(0),api.value(1)]),s={stroke:col,lineWidth:1.6};
        return {type:'group',children:[{type:'line',shape:{x1:c[0]-8,y1:c[1],x2:c[0]+8,y2:c[1]},style:s},{type:'line',shape:{x1:c[0],y1:c[1]-7,x2:c[0],y2:c[1]+7},style:s}]};}});
  });
}
km(1256,1747,kmD_low,kmD_high,censD_low,censD_high);
km(1918,2408.7,kmE_low,kmE_high,censE_low,censE_high);
function key(x1,x2,y,col){
  graphics.push({type:'line',z:100,shape:{x1,y1:y,x2,y2:y},style:{stroke:col,lineWidth:4}});
  graphics.push({type:'line',z:100,shape:{x1:(x1+x2)/2,y1:y-7,x2:(x1+x2)/2,y2:y+7},style:{stroke:col,lineWidth:1.6}});
}
T('D',783,1178,42,{bold:true});
T('HOXB9',840,1207.7,24,{bold:true});key(937,961,1208,LOW);key(1181,1206,1208.5,HIGH);
T('Low (bottom',981,1193,31);T('25%, n=39)',981,1235.4,31);
T('High (top',1216.6,1191,31);T('75%, n=39)',1216.6,1233,31);
T('Survival probability',790,1501,24,{font:SANS,rot:R90,align:'center',color:'#222'});
T('Time (months)',1140,1796,25,{align:'center'});
T('Log\u2212rank',896,1592,19,{font:SANS});T('p = 0.0021',896,1638,19,{font:SANS});
T('E',786,1851,42,{bold:true});
T('PBX1',862,1871,24,{bold:true});key(937,961,1871,LOW);key(1181,1206,1870,HIGH);
T('Low (bottom',970.4,1852.6,31);T('25%, n=39)',970.4,1895,31);
T('High (top',1213,1855,31);T('75%, n=39)',1213,1896,31);
T('Survival probability',790,2164,24,{font:SANS,rot:R90,align:'center',color:'#222'});
T('Time (months)',1140,2455,25,{align:'center'});
T('Log\u2212rank',896,2254,19,{font:SANS});T('p = 0.0056',896,2298.6,19,{font:SANS});

const chart=echarts.init(document.getElementById('c'),null,{renderer:'canvas'});
chart.setOption({animation:false,backgroundColor:'#fff',grid:grids,xAxis:xAxes,yAxis:yAxes,series,
  visualMap:{type:'continuous',min:-5,max:5,dimension:2,seriesIndex:heatIdx,orient:'horizontal',left:1397,top:994,itemWidth:21,itemHeight:159,calculable:false,padding:0,
    inRange:{color:['#0000ff','#ffffff','#ff0000']}},
  graphic:{elements:graphics}});
</script></body></html>
